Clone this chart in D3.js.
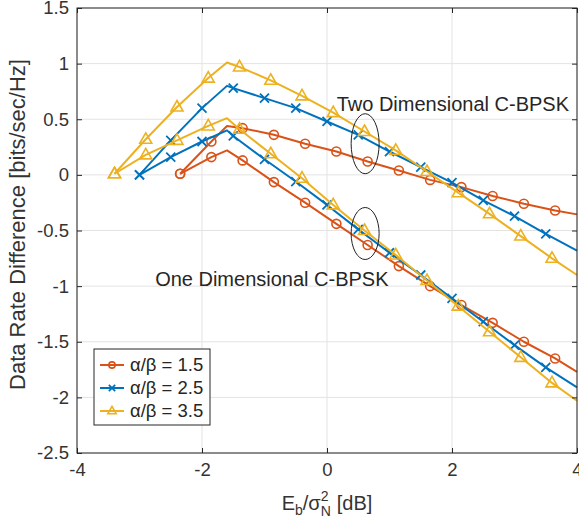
<!DOCTYPE html>
<html>
<head>
<meta charset="utf-8">
<script src="https://cdn.jsdelivr.net/npm/d3@7"></script>
<style>
  body { margin: 0; background: #fff; }
  svg { font-family: "Liberation Sans", Arial, Helvetica, sans-serif; }
</style>
</head>
<body>
<div id="chart"></div>
<script>
// x positions (dB) of every point, -1.6 is the kink and 4 is the axis edge (no marker there)
const xRed = [-2.35, -1.85, -1.6, -1.35, -0.85, -0.35, 0.15, 0.65, 1.15, 1.65, 2.15, 2.65, 3.15, 3.65, 4];
const xBlue = [-3, -2.5, -2, -1.6, -1.5, -1, -0.5, 0, 0.5, 1, 1.5, 2, 2.5, 3, 3.5, 4];
const xYellow = [-3.4, -2.9, -2.4, -1.9, -1.6, -1.4, -0.9, -0.4, 0.1, 0.6, 1.1, 1.6, 2.1, 2.6, 3.1, 3.6, 4];
const noMarkerX = [-1.6, 4];

// two dimensional C-BPSK
const red2D = [0.01, 0.30, 0.44, 0.42, 0.36, 0.28, 0.21, 0.12, 0.04, -0.045, -0.11, -0.19, -0.26, -0.32, -0.355];
const blue2D = [0.0, 0.31, 0.60, 0.80, 0.78, 0.69, 0.60, 0.48, 0.36, 0.21, 0.07, -0.07, -0.23, -0.37, -0.53, -0.68];
const yellow2D = [0.01, 0.32, 0.61, 0.87, 1.01, 0.97, 0.85, 0.71, 0.56, 0.39, 0.22, 0.03, -0.16, -0.35, -0.55, -0.75, -0.90];

// one dimensional C-BPSK
const red1D = [0.01, 0.16, 0.22, 0.13, -0.065, -0.25, -0.44, -0.63, -0.82, -1.00, -1.17, -1.33, -1.50, -1.65, -1.77];
const blue1D = [0.0, 0.16, 0.30, 0.40, 0.35, 0.14, -0.06, -0.27, -0.49, -0.70, -0.90, -1.11, -1.32, -1.53, -1.73, -1.91];
const yellow1D = [0.01, 0.18, 0.31, 0.44, 0.51, 0.41, 0.19, -0.03, -0.27, -0.50, -0.72, -0.95, -1.18, -1.41, -1.64, -1.87, -2.03];

const legendLabels = ["α/β = 1.5", "α/β = 2.5", "α/β = 3.5"];
const xTicks = [-4, -2, 0, 2, 4];
const yTicks = [1.5, 1, 0.5, 0, -0.5, -1, -1.5, -2, -2.5];

const width = 579, height = 520;
const margin = {top: 8, right: 2, bottom: 67, left: 77};
const axisColor = "#262626";

const series = [
  {x: xRed, lines: [red2D, red1D], color: "#D95319", marker: "o", label: legendLabels[0]},
  {x: xBlue, lines: [blue2D, blue1D], color: "#0072BD", marker: "x", label: legendLabels[1]},
  {x: xYellow, lines: [yellow2D, yellow1D], color: "#EDB120", marker: "^", label: legendLabels[2]}
];

const xScale = d3.scaleLinear().domain([-4, 4]).range([margin.left, width - margin.right]);
const yScale = d3.scaleLinear().domain([-2.5, 1.5]).range([height - margin.bottom, margin.top]);

const svg = d3.select("#chart").append("svg")
  .attr("width", width)
  .attr("height", height);

// grid
svg.append("g").selectAll("line").data(xTicks).join("line")
  .attr("x1", d => xScale(d)).attr("x2", d => xScale(d))
  .attr("y1", yScale(1.5)).attr("y2", yScale(-2.5))
  .attr("stroke", "#e3e3e3").attr("stroke-width", 1);
svg.append("g").selectAll("line").data(yTicks).join("line")
  .attr("y1", d => yScale(d)).attr("y2", d => yScale(d))
  .attr("x1", xScale(-4)).attr("x2", xScale(4))
  .attr("stroke", "#e3e3e3").attr("stroke-width", 1);

function drawMarker(g, type, color, size) {
  const s = size || 1;
  if (type === "o") {
    g.append("circle").attr("r", 4.5 * s)
      .attr("fill", "none").attr("stroke", color).attr("stroke-width", 1.6);
  } else if (type === "x") {
    g.append("path").attr("d", `M${-4.5*s},${-4.5*s}L${4.5*s},${4.5*s}M${-4.5*s},${4.5*s}L${4.5*s},${-4.5*s}`)
      .attr("fill", "none").attr("stroke", color).attr("stroke-width", 1.8);
  } else {
    g.append("path").attr("d", `M0,${-6.5*s}L${6*s},${4*s}L${-6*s},${4*s}Z`)
      .attr("fill", "none").attr("stroke", color).attr("stroke-width", 1.6);
  }
}

const line = d3.line()
  .x(d => xScale(d[0]))
  .y(d => yScale(d[1]));

series.forEach(s => {
  s.lines.forEach(vals => {
    const pts = s.x.map((x, i) => [x, vals[i]]);
    svg.append("path")
      .attr("d", line(pts))
      .attr("fill", "none")
      .attr("stroke", s.color)
      .attr("stroke-width", 2)
      .attr("stroke-linejoin", "round");
    pts.filter(p => noMarkerX.indexOf(p[0]) < 0).forEach(p => {
      const g = svg.append("g").attr("transform", `translate(${xScale(p[0])},${yScale(p[1])})`);
      drawMarker(g, s.marker, s.color);
    });
  });
});

// axes, ticks point inwards on all four sides
const xAxis = d3.axisBottom(xScale).tickValues(xTicks).tickSize(-5).tickPadding(10).tickFormat(d => String(d));
const yAxis = d3.axisLeft(yScale).tickValues(yTicks).tickSize(-5).tickPadding(8).tickFormat(d => String(d));

const gx = svg.append("g").attr("transform", `translate(0,${yScale(-2.5)})`).call(xAxis);
const gy = svg.append("g").attr("transform", `translate(${xScale(-4)},0)`).call(yAxis);
svg.append("g").attr("transform", `translate(0,${yScale(1.5)})`)
  .call(d3.axisTop(xScale).tickValues(xTicks).tickSize(-5).tickFormat(""));
svg.append("g").attr("transform", `translate(${xScale(4)},0)`)
  .call(d3.axisRight(yScale).tickValues(yTicks).tickSize(-5).tickFormat(""));

svg.selectAll(".domain").remove();
svg.selectAll(".tick line").attr("stroke", axisColor);
[gx, gy].forEach(g => g.selectAll("text")
  .attr("font-size", 18.5)
  .attr("fill", "#333")
  .attr("font-family", "Liberation Sans, Arial, sans-serif"));

svg.append("rect")
  .attr("x", xScale(-4)).attr("y", yScale(1.5))
  .attr("width", xScale(4) - xScale(-4))
  .attr("height", yScale(-2.5) - yScale(1.5))
  .attr("fill", "none").attr("stroke", axisColor).attr("stroke-width", 1);

// annotations
svg.append("ellipse")
  .attr("cx", xScale(0.61)).attr("cy", yScale(0.28))
  .attr("rx", 14).attr("ry", 30)
  .attr("fill", "none").attr("stroke", "#222").attr("stroke-width", 1);
svg.append("ellipse")
  .attr("cx", xScale(0.61)).attr("cy", yScale(-0.527))
  .attr("rx", 14).attr("ry", 26)
  .attr("fill", "none").attr("stroke", "#222").attr("stroke-width", 1);

svg.append("text")
  .attr("x", xScale(0.155)).attr("y", yScale(0.576))
  .attr("font-size", 20).attr("fill", axisColor)
  .text("Two Dimensional C-BPSK");
svg.append("text")
  .attr("x", xScale(-2.75)).attr("y", yScale(-0.995))
  .attr("font-size", 20).attr("fill", axisColor)
  .text("One Dimensional C-BPSK");

// y label
svg.append("text")
  .attr("transform", `translate(25,${(yScale(1.5) + yScale(-2.5)) / 2 - 6}) rotate(-90)`)
  .attr("text-anchor", "middle")
  .attr("font-size", 22)
  .attr("fill", "#333")
  .text("Data Rate Difference [bits/sec/Hz]");

// x label: E_b / sigma_N^2 [dB]
const xl = svg.append("g").attr("fill", "#333");
const base = 510;
let cx = 0;
function piece(txt, size, dy) {
  const t = xl.append("text").attr("x", cx).attr("y", base + dy).attr("font-size", size).text(txt);
  return t.node().getComputedTextLength();
}
cx += piece("E", 20, 0);
cx += piece("b", 14, 5);
cx += piece("/σ", 20, 0);
const w2 = piece("2", 14, -9);
const wN = piece("N", 14, 6);
cx += Math.max(w2, wN) + 6;
cx += piece("[dB]", 20, 0);
xl.attr("transform", `translate(${xScale(0) - cx / 2},0)`);

// legend
const lg = svg.append("g").attr("transform", "translate(94,349)");
lg.append("rect").attr("width", 116).attr("height", 76)
  .attr("fill", "#fff").attr("stroke", axisColor).attr("stroke-width", 1);
series.forEach((s, i) => {
  const row = lg.append("g").attr("transform", `translate(0,${16 + i * 23})`);
  row.append("line").attr("x1", 6).attr("x2", 30).attr("stroke", s.color).attr("stroke-width", 2);
  const m = row.append("g").attr("transform", "translate(18,0)");
  drawMarker(m, s.marker, s.color, 0.7);
  row.append("text").attr("x", 36).attr("dy", "0.35em")
    .attr("font-size", 18.5).attr("fill", axisColor)
    .text(s.label);
});
</script>
</body>
</html>
